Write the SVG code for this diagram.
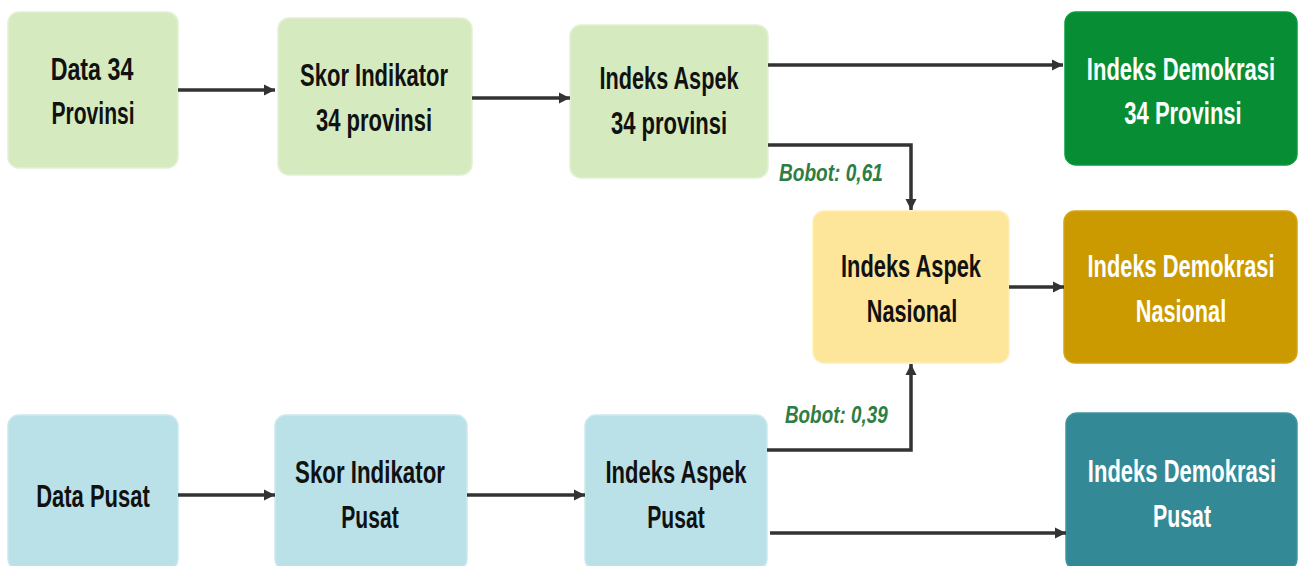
<svg xmlns="http://www.w3.org/2000/svg" width="1299" height="566" viewBox="0 0 1299 566">
<defs>
<marker id="ah" markerUnits="userSpaceOnUse" markerWidth="12" markerHeight="12" refX="11" refY="6" orient="auto">
<path d="M0,0.5 L11,6 L0,11.5 z" fill="#333"/>
</marker>
<style>
.box{stroke-width:1.5}
.lg{fill:#d5ebbf;stroke:#e2f1d4}
.dg{fill:#078e35;stroke:#0a9a3c}
.ly{fill:#fde59a;stroke:#feeebb}
.gd{fill:#ca9a00;stroke:#d4a514}
.lc{fill:#b9e1e7;stroke:#cbe9ee}
.tl{fill:#338a96;stroke:#3f95a1}
text{font-family:"Liberation Sans",Arial,sans-serif;font-weight:bold;font-size:31px;text-anchor:middle}
.dk{fill:#111}
.wt{fill:#fff}
.lbl{font-size:23px;font-style:italic;fill:#2e7d44;text-anchor:start}
.conn{fill:none;stroke:#333;stroke-width:3.5}
</style>
</defs>
<rect width="1299" height="566" fill="#fff"/>

<g id="data34">
<rect class="box lg" x="8" y="12" width="170" height="156" rx="11"/>
<text class="dk" transform="translate(92,80) scale(0.75,1)">Data 34</text>
<text class="dk" transform="translate(93,124) scale(0.68,1)">Provinsi</text>
</g>
<g id="skor34">
<rect class="box lg" x="278" y="18" width="194" height="157" rx="11"/>
<text class="dk" transform="translate(374,86) scale(0.71,1)">Skor Indikator</text>
<text class="dk" transform="translate(374,131) scale(0.71,1)">34 provinsi</text>
</g>
<g id="aspek34">
<rect class="box lg" x="570" y="25" width="198" height="153" rx="11"/>
<text class="dk" transform="translate(669,89) scale(0.70,1)">Indeks Aspek</text>
<text class="dk" transform="translate(669,134) scale(0.71,1)">34 provinsi</text>
</g>
<g id="demokrasi34">
<rect class="box dg" x="1065" y="12" width="232" height="153" rx="11"/>
<text class="wt" transform="translate(1181,80) scale(0.71,1)">Indeks Demokrasi</text>
<text class="wt" transform="translate(1183,124) scale(0.71,1)">34 Provinsi</text>
</g>
<g id="aspekNasional">
<rect class="box ly" x="813" y="211" width="196" height="152" rx="11"/>
<text class="dk" transform="translate(911,277) scale(0.705,1)">Indeks Aspek</text>
<text class="dk" transform="translate(912,322) scale(0.70,1)">Nasional</text>
</g>
<g id="demokrasiNasional">
<rect class="box gd" x="1064" y="211" width="233" height="152" rx="11"/>
<text class="wt" transform="translate(1181,277) scale(0.705,1)">Indeks Demokrasi</text>
<text class="wt" transform="translate(1181,322) scale(0.70,1)">Nasional</text>
</g>
<g id="dataPusat">
<rect class="box lc" x="8" y="415" width="170" height="155" rx="11"/>
<text class="dk" transform="translate(93,507) scale(0.71,1)">Data Pusat</text>
</g>
<g id="skorPusat">
<rect class="box lc" x="275" y="415" width="192" height="155" rx="11"/>
<text class="dk" transform="translate(370,483) scale(0.72,1)">Skor Indikator</text>
<text class="dk" transform="translate(370,528) scale(0.68,1)">Pusat</text>
</g>
<g id="aspekPusat">
<rect class="box lc" x="585" y="415" width="182" height="155" rx="11"/>
<text class="dk" transform="translate(676,483) scale(0.71,1)">Indeks Aspek</text>
<text class="dk" transform="translate(676,528) scale(0.68,1)">Pusat</text>
</g>
<g id="demokrasiPusat">
<rect class="box tl" x="1066" y="413" width="231" height="157" rx="11"/>
<text class="wt" transform="translate(1182,482) scale(0.71,1)">Indeks Demokrasi</text>
<text class="wt" transform="translate(1182,527) scale(0.69,1)">Pusat</text>
</g>

<g id="connectors">
<path class="conn" d="M178,90 H275" marker-end="url(#ah)"/>
<path class="conn" d="M472,98 H570" marker-end="url(#ah)"/>
<path class="conn" d="M768,65 H1063" marker-end="url(#ah)"/>
<path class="conn" d="M768,145 H911 V210" marker-end="url(#ah)"/>
<path class="conn" d="M1009,287 H1064" marker-end="url(#ah)"/>
<path class="conn" d="M767,450 H911 V364" marker-end="url(#ah)"/>
<path class="conn" d="M178,495 H275" marker-end="url(#ah)"/>
<path class="conn" d="M467,495 H585" marker-end="url(#ah)"/>
<path class="conn" d="M770,533 H1066" marker-end="url(#ah)"/>
<text class="lbl" transform="translate(779,181) scale(0.83,1)">Bobot: 0,61</text>
<text class="lbl" transform="translate(785,423) scale(0.82,1)">Bobot: 0,39</text>
</g>
</svg>
